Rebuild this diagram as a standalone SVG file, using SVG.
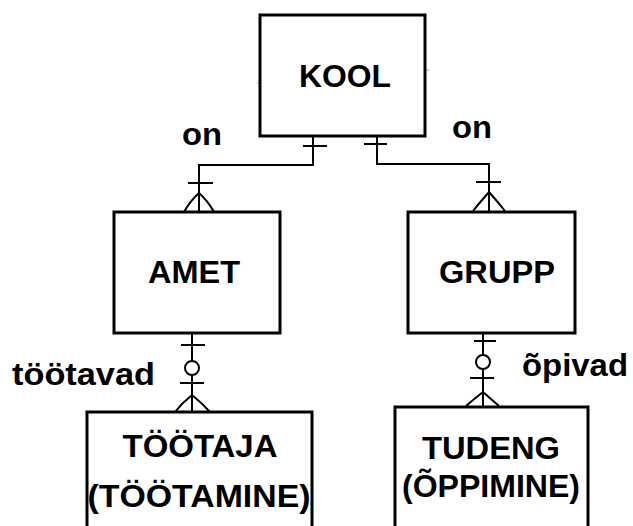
<svg xmlns="http://www.w3.org/2000/svg" width="633" height="526" viewBox="0 0 633 526">
<style>
.box{fill:#fff;stroke:#000;stroke-width:3}
.ln{fill:none;stroke:#000;stroke-width:2}
.c{fill:#fff;stroke:#000;stroke-width:2}
text{font-family:"Liberation Sans",Arial,sans-serif;font-weight:bold;fill:#000;font-size:31px}
.m{text-anchor:middle}
</style>
<rect width="633" height="526" fill="#fff"/>
<g id="connectors">
<path class="ln" d="M313,136 V165 H199 V212"/>
<path class="ln" d="M303,146 H327 M188,183 H213 M199,193 Q190,201 184,212 M199,193 Q208,201 214,212"/>
<path class="ln" d="M377,136 V164 H489 V212"/>
<path class="ln" d="M364,144 H387 M476,182 H501 M489,192 Q481,201 473,211 M489,192 Q497,201 505,211"/>
<path class="ln" d="M192,333 V412"/>
<path class="ln" d="M181,345 H205 M180,383 H204 M192,395 Q182,403 175,412 M192,395 Q202,403 210,412"/>
<circle class="c" cx="192" cy="368" r="7"/>
<path class="ln" d="M483,333 V407"/>
<path class="ln" d="M474,341 H496 M470,378 H494 M483,392 Q474,399 466,406 M483,392 Q491,399 499,406"/>
<circle class="c" cx="483" cy="362" r="7"/>
<path d="M425,70 H429 M257,83 H260" stroke="#999" stroke-width="1"/>
</g>
<g id="kool">
<rect class="box" x="260" y="15" width="165" height="121"/>
<text class="m" x="345" y="87" textLength="92" lengthAdjust="spacingAndGlyphs">KOOL</text>
</g>
<g id="amet">
<rect class="box" x="114" y="212" width="166" height="121"/>
<text class="m" x="194" y="283" textLength="92" lengthAdjust="spacingAndGlyphs">AMET</text>
</g>
<g id="grupp">
<rect class="box" x="408" y="212" width="167" height="121"/>
<text class="m" x="497" y="283" textLength="116" lengthAdjust="spacingAndGlyphs">GRUPP</text>
</g>
<g id="tootaja">
<rect class="box" x="87" y="412" width="225" height="130"/>
<text class="m" x="200" y="457" textLength="155" lengthAdjust="spacingAndGlyphs">TÖÖTAJA</text>
<text class="m" x="199" y="507" textLength="223" lengthAdjust="spacingAndGlyphs">(TÖÖTAMINE)</text>
</g>
<g id="tudeng">
<rect class="box" x="395" y="407" width="193" height="130"/>
<text class="m" x="491" y="459" textLength="138" lengthAdjust="spacingAndGlyphs">TUDENG</text>
<text class="m" x="491" y="497" textLength="178" lengthAdjust="spacingAndGlyphs">(ÕPPIMINE)</text>
</g>
<g id="labels">
<text x="182" y="145" textLength="40" lengthAdjust="spacingAndGlyphs">on</text>
<text x="452" y="138" textLength="40" lengthAdjust="spacingAndGlyphs">on</text>
<text x="12" y="385" textLength="143" lengthAdjust="spacingAndGlyphs">töötavad</text>
<text x="522" y="376" textLength="106" lengthAdjust="spacingAndGlyphs">õpivad</text>
</g>
</svg>
